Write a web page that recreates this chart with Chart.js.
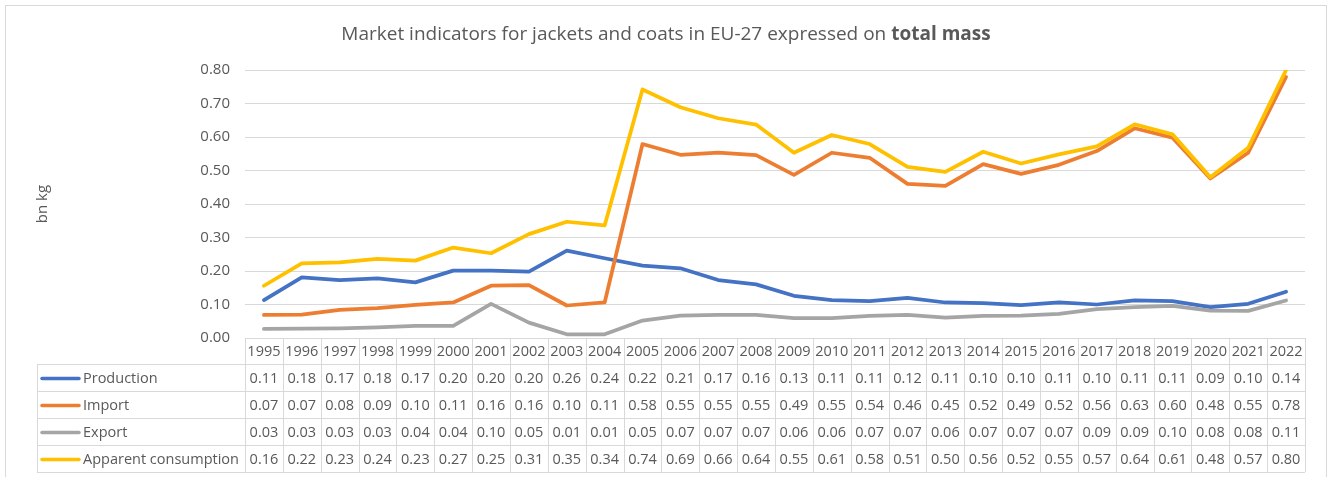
<!DOCTYPE html>
<html>
<head>
<meta charset="utf-8">
<script src="https://cdn.jsdelivr.net/npm/chart.js@4.4.1/dist/chart.umd.min.js"></script>
<style>
  html, body { margin: 0; padding: 0; background: #fff; }
  #wrap { width: 1333px; height: 477px; position: relative; }
</style>
</head>
<body>
<div id="wrap"><canvas id="marketChart"></canvas></div>
<script>
const years = ['1995', '1996', '1997', '1998', '1999', '2000', '2001', '2002', '2003', '2004',
    '2005', '2006', '2007', '2008', '2009', '2010', '2011', '2012', '2013', '2014',
    '2015', '2016', '2017', '2018', '2019', '2020', '2021', '2022'];

const production = [0.113, 0.181, 0.173, 0.178, 0.166, 0.201, 0.201, 0.198, 0.261, 0.238,
    0.216, 0.208, 0.173, 0.160, 0.126, 0.113, 0.110, 0.120, 0.106, 0.104,
    0.098, 0.106, 0.100, 0.112, 0.110, 0.092, 0.102, 0.138];
const imports = [0.069, 0.070, 0.084, 0.089, 0.099, 0.106, 0.156, 0.158, 0.097, 0.106,
    0.579, 0.547, 0.553, 0.546, 0.487, 0.553, 0.538, 0.460, 0.454, 0.519,
    0.490, 0.517, 0.558, 0.626, 0.598, 0.476, 0.553, 0.779];
const exports = [0.027, 0.028, 0.029, 0.032, 0.036, 0.036, 0.102, 0.046, 0.011, 0.011,
    0.052, 0.067, 0.069, 0.069, 0.059, 0.059, 0.066, 0.069, 0.061, 0.066,
    0.067, 0.072, 0.086, 0.092, 0.096, 0.082, 0.081, 0.112];
const apparent = [0.156, 0.223, 0.226, 0.236, 0.231, 0.270, 0.253, 0.310, 0.347, 0.336,
    0.742, 0.689, 0.656, 0.637, 0.553, 0.606, 0.579, 0.511, 0.496, 0.556,
    0.521, 0.548, 0.572, 0.638, 0.608, 0.480, 0.568, 0.800];

const seriesNames = ['Production', 'Import', 'Export', 'Apparent consumption'];
const seriesColors = ['#4472C4', '#ED7D31', '#A5A5A5', '#FFC000'];
const yTicks = [0, 0.1, 0.2, 0.3, 0.4, 0.5, 0.6, 0.7, 0.8];

const textColor = '#595959';
const lineColor = '#D9D9D9';
const fontFamily = '"Open Sans", "Noto Sans", sans-serif';

// frame, title, axis title and data table
const decorPlugin = {
    id: 'decor',
    beforeDraw(chart) {
        const ctx = chart.ctx;
        ctx.save();
        ctx.fillStyle = '#fff';
        ctx.fillRect(0, 0, chart.width, chart.height);
        ctx.strokeStyle = lineColor;
        ctx.lineWidth = 1;
        ctx.strokeRect(5.5, 5.5, 1321, 500);
        ctx.restore();
    },
    afterDraw(chart) {
        const ctx = chart.ctx;
        const x = chart.scales.x;
        const area = chart.chartArea;
        ctx.save();

        // title with bold ending
        const t1 = 'Market indicators for jackets and coats in EU-27 expressed on ';
        const t2 = 'total mass';
        ctx.fillStyle = textColor;
        ctx.textBaseline = 'middle';
        ctx.font = '19px ' + fontFamily;
        const w1 = ctx.measureText(t1).width;
        ctx.font = 'bold 19px ' + fontFamily;
        const w2 = ctx.measureText(t2).width;
        let tx = 666 - (w1 + w2) / 2;
        ctx.textAlign = 'left';
        ctx.font = '19px ' + fontFamily;
        ctx.fillText(t1, tx, 35);
        ctx.font = 'bold 19px ' + fontFamily;
        ctx.fillText(t2, tx + w1, 35);

        // y axis title
        ctx.save();
        ctx.translate(43, (area.top + area.bottom) / 2);
        ctx.rotate(-Math.PI / 2);
        ctx.textAlign = 'center';
        ctx.font = '15px ' + fontFamily;
        ctx.fillText('bn kg', 0, 0);
        ctx.restore();

        // data table
        const n = years.length;
        const colW = (area.right - area.left) / n;
        const top = area.bottom;
        const headH = 26;
        const rowH = 27;
        const legendLeft = 37;
        const bottom = top + headH + rowH * 4;

        ctx.strokeStyle = lineColor;
        ctx.lineWidth = 1;
        ctx.beginPath();
        for (let k = 0; k <= n; k++) {
            const vx = Math.round(area.left + k * colW) + 0.5;
            ctx.moveTo(vx, top);
            ctx.lineTo(vx, bottom);
        }
        ctx.moveTo(legendLeft + 0.5, top + headH);
        ctx.lineTo(legendLeft + 0.5, bottom);
        for (let r = 0; r <= 4; r++) {
            const hy = Math.round(top + headH + r * rowH) + 0.5;
            ctx.moveTo(legendLeft, hy);
            ctx.lineTo(area.right, hy);
        }
        ctx.stroke();

        ctx.fillStyle = textColor;
        ctx.textAlign = 'center';
        ctx.font = '14.5px ' + fontFamily;
        years.forEach(function (yr, i) {
            ctx.fillText(yr, x.getPixelForValue(i), top + headH / 2 + 1);
        });

        chart.data.datasets.forEach(function (ds, r) {
            const cy = top + headH + r * rowH + rowH / 2 + 1;
            ctx.strokeStyle = ds.borderColor;
            ctx.lineWidth = 3.5;
            ctx.lineCap = 'round';
            ctx.beginPath();
            ctx.moveTo(42, cy);
            ctx.lineTo(79, cy);
            ctx.stroke();
            ctx.fillStyle = textColor;
            ctx.textAlign = 'left';
            ctx.fillText(ds.label, 83, cy);
            ctx.textAlign = 'center';
            ds.data.forEach(function (v, i) {
                ctx.fillText(v.toFixed(2), x.getPixelForValue(i), cy);
            });
        });

        ctx.restore();
    }
};

const seriesData = [production, imports, exports, apparent];

const marketChart = new Chart(document.getElementById('marketChart').getContext('2d'), {
    type: 'line',
    data: {
        labels: years,
        datasets: seriesNames.map(function (name, i) {
            return {
                label: name,
                data: seriesData[i],
                borderColor: seriesColors[i],
                backgroundColor: seriesColors[i],
                borderWidth: 3.75,
                pointRadius: 0,
                tension: 0,
                borderJoinStyle: 'round',
                borderCapStyle: 'round',
                order: 4 - i
            };
        })
    },
    options: {
        responsive: true,
        maintainAspectRatio: false,
        animation: false,
        layout: { padding: { top: 70, bottom: 139, right: 28, left: 0 } },
        plugins: {
            legend: { display: false },
            title: { display: false },
            tooltip: { enabled: false }
        },
        scales: {
            x: {
                type: 'category',
                offset: true,
                display: false,
                grid: { display: false }
            },
            y: {
                min: 0,
                max: 0.8,
                afterFit: function (scale) { scale.width = 245; },
                afterBuildTicks: function (scale) {
                    scale.ticks = yTicks.map(function (v) { return { value: v }; });
                },
                border: { display: false },
                grid: { color: lineColor, lineWidth: 1, drawTicks: false },
                ticks: {
                    padding: 15,
                    color: textColor,
                    font: { family: fontFamily, size: 15 },
                    callback: function (value) { return value.toFixed(2); }
                }
            }
        }
    },
    plugins: [decorPlugin]
});
</script>
</body>
</html>
